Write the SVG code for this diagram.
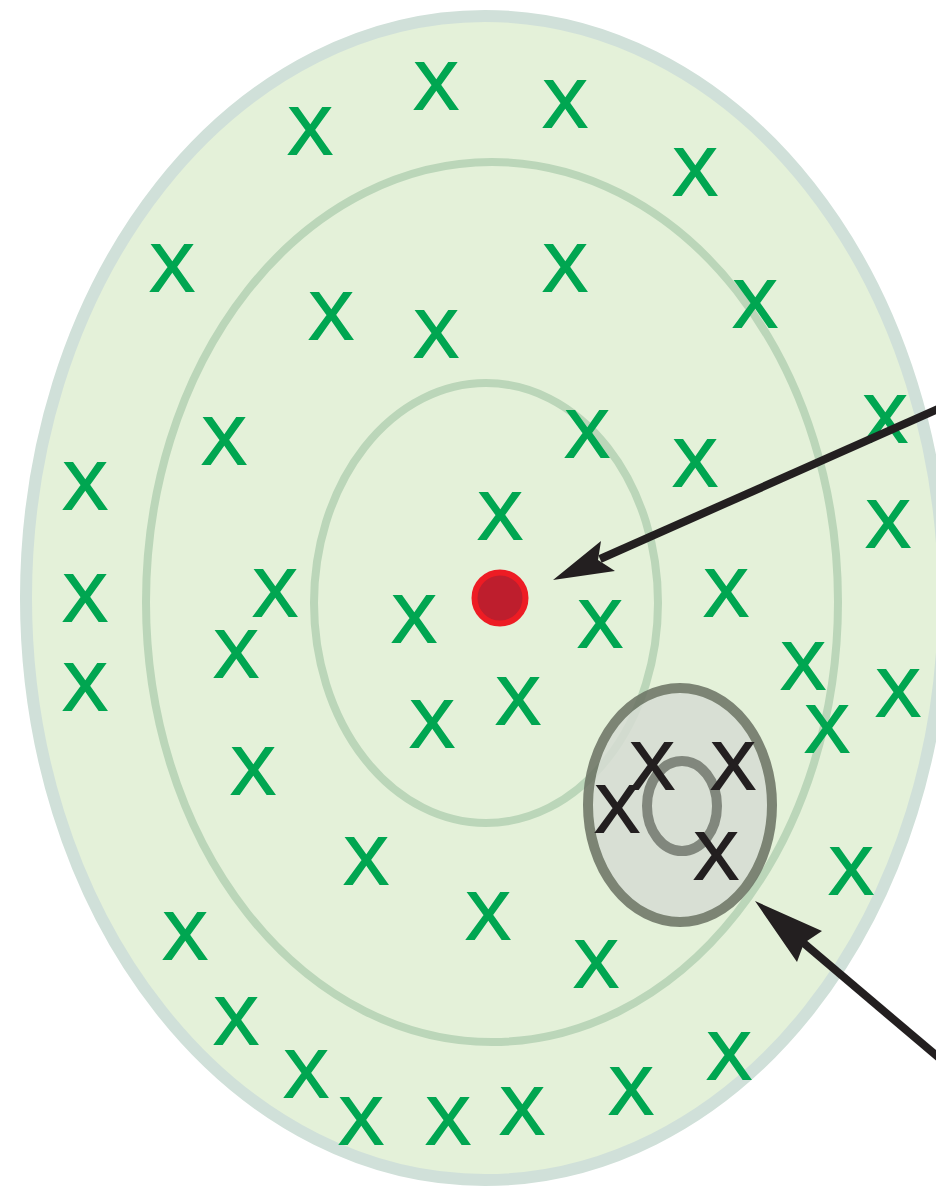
<svg xmlns="http://www.w3.org/2000/svg" width="936" height="1190" viewBox="0 0 936 1190">
<style>
.gx{font-family:"Liberation Sans",Arial,sans-serif;font-size:67px;fill:#00a651;stroke:#00a651;stroke-width:2;text-anchor:middle}
.bx{font-family:"Liberation Sans",Arial,sans-serif;font-size:67px;fill:#231f20;stroke:#231f20;stroke-width:2;text-anchor:middle}
.ring{fill:none;stroke:#bbd6b9;stroke-width:8}
.arrow{stroke:#231f20;stroke-width:8;fill:none}
.head{fill:#231f20}
</style>
<g id="outer">
<ellipse cx="485" cy="598" rx="459" ry="582" fill="#e4f1d9" stroke="#d0e0d9" stroke-width="12"/>
</g>
<g id="rings">
<ellipse class="ring" cx="492" cy="602" rx="346" ry="440"/>
<ellipse class="ring" cx="486" cy="603" rx="172" ry="220"/>
</g>
<g id="cluster">
<g opacity="0.85">
<ellipse cx="680" cy="805" rx="92" ry="117" fill="#d7ddd4" stroke="#6a7263" stroke-width="10"/>
</g>
<ellipse cx="682" cy="806" rx="35" ry="45" fill="none" stroke="#81877d" stroke-width="10"/>
</g>
<g id="green-points">
<text class="gx" x="436" y="109">X</text>
<text class="gx" x="310" y="154">X</text>
<text class="gx" x="565" y="127">X</text>
<text class="gx" x="695" y="195">X</text>
<text class="gx" x="172" y="291">X</text>
<text class="gx" x="565" y="291">X</text>
<text class="gx" x="755" y="327">X</text>
<text class="gx" x="331" y="339">X</text>
<text class="gx" x="436" y="357">X</text>
<text class="gx" x="885" y="442">X</text>
<text class="gx" x="224" y="464">X</text>
<text class="gx" x="587" y="457">X</text>
<text class="gx" x="695" y="486">X</text>
<text class="gx" x="85" y="509">X</text>
<text class="gx" x="500" y="539">X</text>
<text class="gx" x="888" y="547">X</text>
<text class="gx" x="85" y="621">X</text>
<text class="gx" x="275" y="616">X</text>
<text class="gx" x="414" y="642">X</text>
<text class="gx" x="600" y="647">X</text>
<text class="gx" x="726" y="616">X</text>
<text class="gx" x="236" y="677">X</text>
<text class="gx" x="85" y="710">X</text>
<text class="gx" x="803" y="689">X</text>
<text class="gx" x="898" y="716">X</text>
<text class="gx" x="518" y="724">X</text>
<text class="gx" x="432" y="747">X</text>
<text class="gx" x="827" y="752">X</text>
<text class="gx" x="253" y="794">X</text>
<text class="gx" x="366" y="884">X</text>
<text class="gx" x="851" y="894">X</text>
<text class="gx" x="488" y="939">X</text>
<text class="gx" x="185" y="959">X</text>
<text class="gx" x="596" y="987">X</text>
<text class="gx" x="236" y="1044">X</text>
<text class="gx" x="729" y="1079">X</text>
<text class="gx" x="306" y="1097">X</text>
<text class="gx" x="631" y="1114">X</text>
<text class="gx" x="361" y="1144">X</text>
<text class="gx" x="448" y="1144">X</text>
<text class="gx" x="522" y="1134">X</text>
</g>
<g id="black-points">
<text class="bx" x="652" y="789">X</text>
<text class="bx" x="733" y="789">X</text>
<text class="bx" x="617" y="832">X</text>
<text class="bx" x="716" y="879">X</text>
</g>
<g id="center">
<circle cx="500" cy="598" r="25.5" fill="#be1e2d" stroke="#ed1c24" stroke-width="6"/>
</g>
<g id="connectors">
<line class="arrow" x1="945" y1="406" x2="600" y2="559"/>
<path class="head" d="M553,580 L601,541 L598,560 L615,571 Z"/>
<line class="arrow" x1="945" y1="1063" x2="800" y2="940"/>
<path class="head" d="M755,901 L822,931 L804,943 L797,962 Z"/>
</g>
</svg>
